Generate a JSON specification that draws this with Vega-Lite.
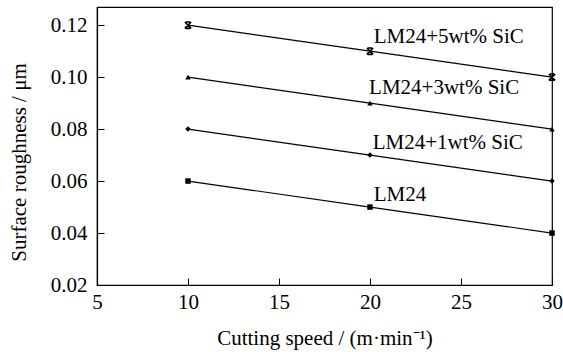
{
  "$schema": "https://vega.github.io/schema/vega-lite/v6.json",
  "width": 455,
  "height": 278,
  "autosize": {"type": "none"},
  "padding": {"left": 97, "top": 7, "right": 11, "bottom": 67},
  "background": "white",
  "config": {
    "font": "Liberation Serif",
    "view": {"stroke": "black", "strokeWidth": 1.2},
    "axis": {
      "domainColor": "black",
      "domainWidth": 1.2,
      "tickColor": "black",
      "tickWidth": 1,
      "tickSize": -7,
      "grid": false,
      "labelFont": "Liberation Serif",
      "labelFontSize": 21,
      "labelColor": "black",
      "titleFont": "Liberation Serif",
      "titleFontSize": 21,
      "titleFontWeight": "normal",
      "titleColor": "black"
    }
  },
  "datasets": {
    "pts": [
      {"series": "LM24", "speed": 10, "roughness": 0.06},
      {"series": "LM24", "speed": 20, "roughness": 0.05},
      {"series": "LM24", "speed": 30, "roughness": 0.04},
      {"series": "LM24+1wt% SiC", "speed": 10, "roughness": 0.08},
      {"series": "LM24+1wt% SiC", "speed": 20, "roughness": 0.07},
      {"series": "LM24+1wt% SiC", "speed": 30, "roughness": 0.06},
      {"series": "LM24+3wt% SiC", "speed": 10, "roughness": 0.10},
      {"series": "LM24+3wt% SiC", "speed": 20, "roughness": 0.09},
      {"series": "LM24+3wt% SiC", "speed": 30, "roughness": 0.08},
      {"series": "LM24+5wt% SiC", "speed": 10, "roughness": 0.12},
      {"series": "LM24+5wt% SiC", "speed": 20, "roughness": 0.11},
      {"series": "LM24+5wt% SiC", "speed": 30, "roughness": 0.10}
    ],
    "labels": [
      {"label": "LM24+5wt% SiC", "lx": 20.2, "ly": 0.1155},
      {"label": "LM24+3wt% SiC", "lx": 19.95, "ly": 0.0958},
      {"label": "LM24+1wt% SiC", "lx": 20.15, "ly": 0.0747},
      {"label": "LM24", "lx": 20.2, "ly": 0.0546}
    ]
  },
  "layer": [
    {
      "data": {"name": "pts"},
      "mark": {"type": "line", "color": "black", "strokeWidth": 1.2},
      "encoding": {
        "x": {
          "field": "speed", "type": "quantitative",
          "scale": {"domain": [5, 30], "nice": false, "zero": false},
          "axis": {"values": [5, 10, 15, 20, 25, 30], "title": "Cutting speed / (m·min⁻¹)", "labelPadding": 13, "titlePadding": 15, "labelFlush": false}
        },
        "y": {
          "field": "roughness", "type": "quantitative",
          "scale": {"domain": [0.02, 0.127], "nice": false, "zero": false},
          "axis": {"values": [0.02, 0.04, 0.06, 0.08, 0.10, 0.12], "format": ".2f", "title": "Surface roughness / μm", "labelPadding": 17, "titlePadding": 21, "labelFlush": false, "titleY": 155}
        },
        "detail": {"field": "series"}
      }
    },
    {
      "data": {"name": "pts"},
      "transform": [{"filter": "datum.series !== 'LM24+5wt% SiC'"}],
      "mark": {"type": "point", "filled": true, "color": "black", "opacity": 1},
      "encoding": {
        "x": {"field": "speed", "type": "quantitative"},
        "y": {"field": "roughness", "type": "quantitative"},
        "shape": {
          "field": "series", "type": "nominal",
          "scale": {"domain": ["LM24", "LM24+1wt% SiC", "LM24+3wt% SiC"], "range": ["square", "diamond", "triangle-up"]},
          "legend": null
        },
        "size": {"field": "series", "type": "nominal", "scale": {"domain": ["LM24", "LM24+1wt% SiC", "LM24+3wt% SiC"], "range": [30, 30, 42]}, "legend": null}
      }
    },
    {
      "data": {"name": "pts"},
      "transform": [{"filter": "datum.series === 'LM24+5wt% SiC'"}],
      "mark": {"type": "point", "filled": false, "color": "black", "strokeWidth": 1.6, "opacity": 1, "shape": "M-1,-1L1,1M1,-1L-1,1M-0.7,-1L0.7,-1M-0.7,1L0.7,1", "size": 40},
      "encoding": {
        "x": {"field": "speed", "type": "quantitative"},
        "y": {"field": "roughness", "type": "quantitative"}
      }
    },
    {
      "data": {"name": "labels"},
      "mark": {"type": "text", "align": "left", "baseline": "middle", "font": "Liberation Serif", "fontSize": 21, "color": "black"},
      "encoding": {
        "x": {"field": "lx", "type": "quantitative"},
        "y": {"field": "ly", "type": "quantitative"},
        "text": {"field": "label"}
      }
    }
  ]
}
